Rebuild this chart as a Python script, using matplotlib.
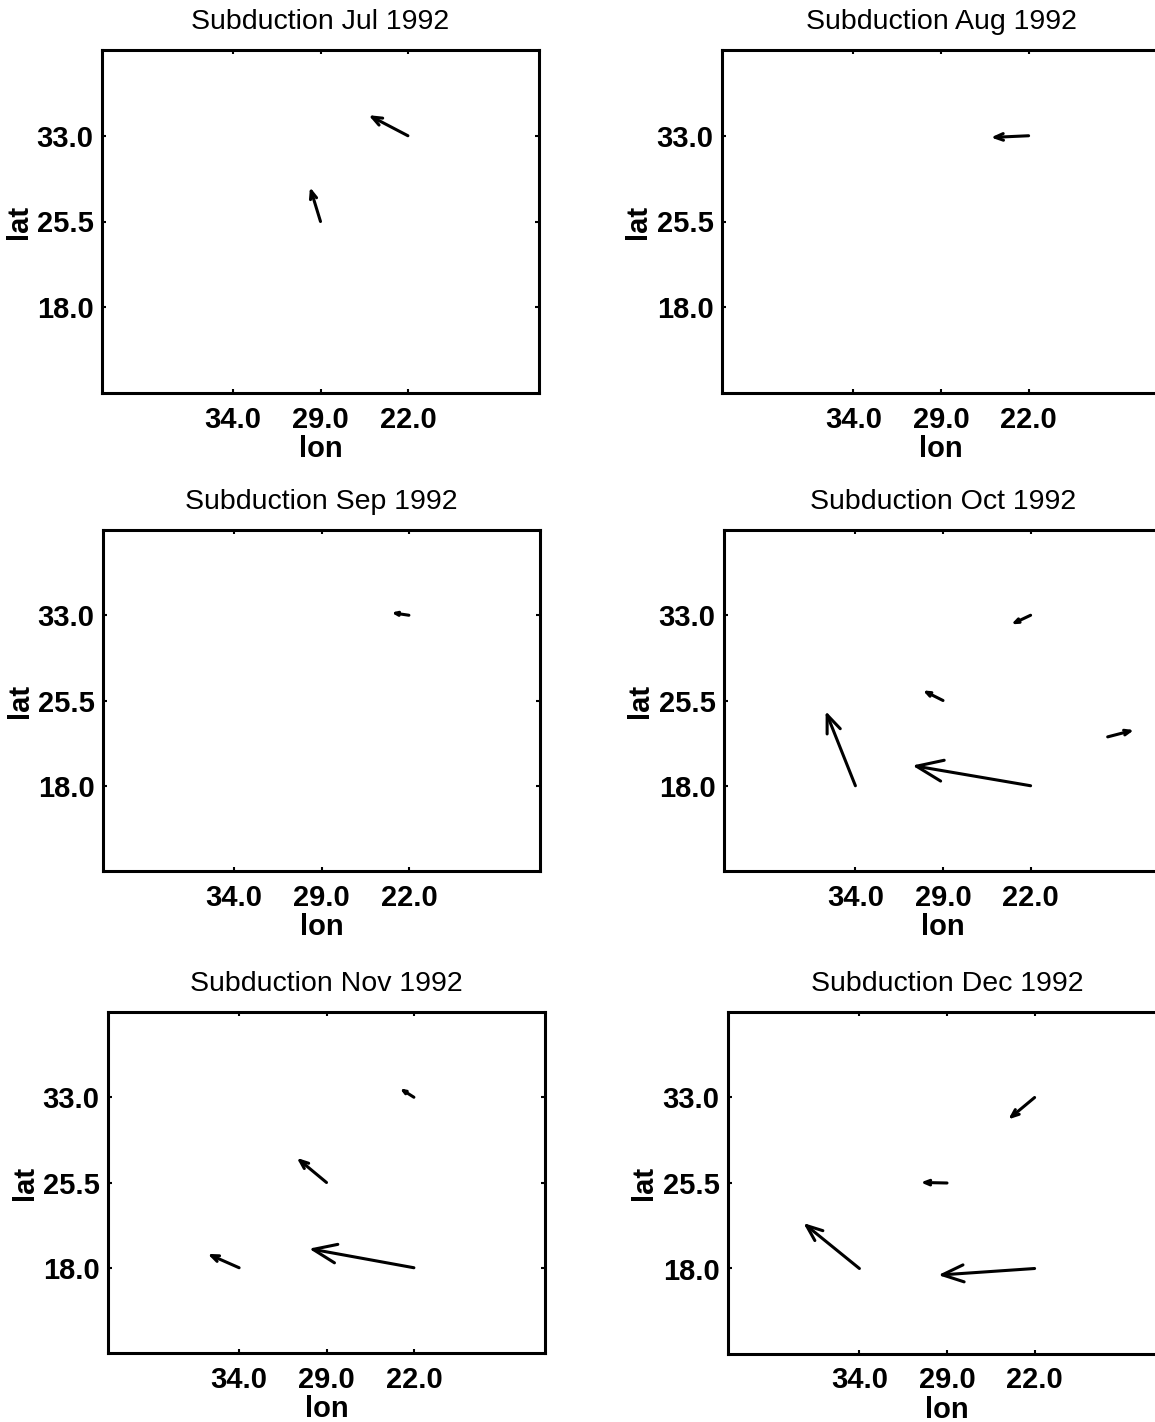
import numpy as np
import matplotlib
matplotlib.use("Agg")
import matplotlib.pyplot as plt

plt.rcParams["font.family"] = ["Liberation Sans", "DejaVu Sans"]

# ==================
# data: arrow tails (lon index, lat) and components (lon index, deg lat)
# ==================

lon_pos = [1, 2, 3]
lon_labels = ["34.0", "29.0", "22.0"]
lat_ticks = [18.0, 25.5, 33.0]
months = ["Jul", "Aug", "Sep", "Oct", "Nov", "Dec"]

jul_x = [3, 2]
jul_y = [33.0, 25.5]
jul_u = [-0.45, -0.12]
jul_v = [1.8, 3.0]

aug_x = [3]
aug_y = [33.0]
aug_u = [-0.43]
aug_v = [-0.15]

sep_x = [3]
sep_y = [33.0]
sep_u = [-0.2]
sep_v = [0.23]

oct_x = [3, 2, 1, 3, 3.88]
oct_y = [33.0, 25.5, 18.0, 18.0, 22.3]
oct_u = [-0.22, -0.23, -0.34, -1.35, 0.3]
oct_v = [-0.8, 0.89, 6.57, 1.78, 0.6]

nov_x = [3, 2, 1, 3]
nov_y = [33.0, 25.5, 18.0, 18.0]
nov_u = [-0.16, -0.34, -0.36, -1.2]
nov_v = [0.78, 2.17, 1.22, 1.68]

dec_x = [3, 2, 1, 3]
dec_y = [33.0, 25.5, 18.0, 18.0]
dec_u = [-0.3, -0.3, -0.64, -1.1]
dec_v = [-1.92, 0.05, 3.99, -0.58]

vectors = [
    (jul_x, jul_y, jul_u, jul_v),
    (aug_x, aug_y, aug_u, aug_v),
    (sep_x, sep_y, sep_u, sep_v),
    (oct_x, oct_y, oct_u, oct_v),
    (nov_x, nov_y, nov_u, nov_v),
    (dec_x, dec_y, dec_u, dec_v),
]

# panel boxes in pixels: left, top, bottom, width
W, H = 1155, 1422
boxes = [
    (102, 50, 393, 437), (722, 50, 393, 438),
    (103, 530, 871, 437), (724, 530, 871, 438),
    (108, 1012, 1353, 437), (728, 1012, 1354, 438),
]

fig = plt.figure(figsize=(W / 100, H / 100), dpi=100)

for k, (left, top, bot, pw) in enumerate(boxes):
    ax = fig.add_axes([left / W, 1 - bot / H, pw / W, (bot - top) / H])
    ax.set_xlim(-0.5, 4.5)
    ax.set_ylim(10.5, 40.5)
    ax.set_xticks(lon_pos)
    ax.set_xticklabels(lon_labels)
    ax.set_yticks(lat_ticks)
    ax.set_yticklabels([f"{t:.1f}" for t in lat_ticks])
    ax.tick_params(direction="in", length=3, width=1.5, top=True, right=True,
                   labelsize=21)
    ax.tick_params(axis="x", pad=9)
    ax.tick_params(axis="y", pad=6)
    for lab in ax.get_xticklabels() + ax.get_yticklabels():
        lab.set_fontweight("bold")
    for s in ax.spines.values():
        s.set_linewidth(2.2)
    ax.set_xlabel("lon", fontsize=21, fontweight="bold", labelpad=1)
    ax.set_ylabel("lat", fontsize=21, fontweight="bold", labelpad=3)
    ax.set_title(f"Subduction {months[k]} 1992", fontsize=20.5, pad=15)

    xs, ys, us, vs = vectors[k]
    for x, y, u, v in zip(xs, ys, us, vs):
        p0 = ax.transData.transform((x, y))
        p1 = ax.transData.transform((x + u, y + v))
        L_pt = np.hypot(*(p1 - p0)) * 72 / fig.dpi
        ax.annotate("", xy=(x + u, y + v), xytext=(x, y),
                    arrowprops=dict(arrowstyle="->,head_length=0.4,head_width=0.16",
                                    mutation_scale=0.55 * L_pt, lw=2.2,
                                    color="black", shrinkA=0, shrinkB=0))

fig.savefig("out.png", dpi=100)
